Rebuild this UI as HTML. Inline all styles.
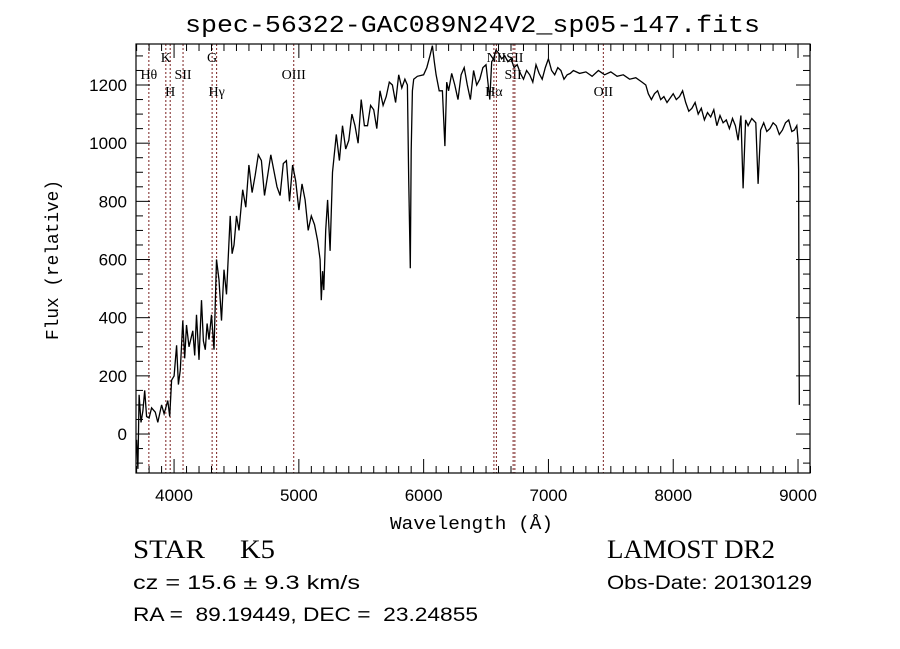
<!DOCTYPE html>
<html><head><meta charset="utf-8"><style>
html,body{margin:0;padding:0;background:#fff;width:900px;height:649px;overflow:hidden}
svg text{fill:#000}
.ax{font-family:"Liberation Sans",sans-serif;font-size:17px}
.mono{font-family:"Liberation Mono",monospace}
.ser{font-family:"Liberation Serif",serif}
.san{font-family:"Liberation Sans",sans-serif}
</style></head><body>
<svg id="chart" width="900" height="649" viewBox="0 0 900 649" xmlns="http://www.w3.org/2000/svg">
<text x="185" y="32" class="mono" font-size="24" textLength="575" lengthAdjust="spacingAndGlyphs">spec-56322-GAC089N24V2_sp05-147.fits</text>
<g id="plot"></g>
<text x="390" y="529" class="mono" font-size="18" textLength="163" lengthAdjust="spacingAndGlyphs">Wavelength (Å)</text>
<text transform="translate(58,340) rotate(-90)" class="mono" font-size="18" textLength="160" lengthAdjust="spacingAndGlyphs">Flux (relative)</text>
<text x="133" y="558" class="ser" font-size="26" textLength="72" lengthAdjust="spacingAndGlyphs">STAR</text>
<text x="240" y="558" class="ser" font-size="26" textLength="35" lengthAdjust="spacingAndGlyphs">K5</text>
<text x="607" y="558" class="ser" font-size="26" textLength="168" lengthAdjust="spacingAndGlyphs">LAMOST DR2</text>
<text x="133" y="589" class="san" font-size="19" textLength="227" lengthAdjust="spacingAndGlyphs">cz = 15.6 ± 9.3 km/s</text>
<text x="607" y="589" class="san" font-size="19" textLength="205" lengthAdjust="spacingAndGlyphs">Obs-Date: 20130129</text>
<text x="133" y="621" class="san" font-size="19" textLength="345" lengthAdjust="spacingAndGlyphs">RA =&#160;&#160;89.19449, DEC =&#160;&#160;23.24855</text>
</svg>
<script>
const wavelengths=[3700,3710,3720,3735,3750,3765,3780,3800,3820,3850,3870,3900,3920,3950,3965,3980,4000,4020,4035,4050,4070,4085,4100,4120,4150,4165,4180,4200,4220,4235,4250,4265,4280,4300,4320,4340,4360,4380,4400,4420,4450,4465,4480,4500,4520,4550,4575,4600,4625,4650,4675,4700,4725,4750,4775,4800,4825,4850,4875,4900,4925,4950,4975,5000,5025,5050,5075,5100,5125,5150,5170,5180,5190,5200,5215,5230,5250,5270,5300,5325,5350,5375,5400,5425,5450,5475,5500,5525,5550,5575,5600,5625,5650,5675,5700,5725,5750,5775,5800,5825,5850,5870,5880,5893,5900,5910,5920,5950,6000,6025,6050,6070,6085,6100,6125,6150,6170,6185,6200,6225,6250,6275,6300,6325,6350,6375,6400,6425,6450,6475,6500,6530,6545,6560,6580,6600,6625,6650,6675,6700,6725,6750,6775,6800,6825,6850,6875,6900,6925,6950,6975,7000,7025,7050,7075,7100,7125,7150,7175,7200,7250,7300,7350,7400,7450,7500,7550,7600,7650,7700,7750,7780,7800,7825,7850,7875,7900,7925,7950,7975,8000,8025,8050,8075,8100,8125,8150,8175,8200,8225,8250,8275,8300,8325,8350,8375,8400,8425,8450,8475,8498,8520,8542,8560,8580,8600,8630,8662,8680,8700,8725,8750,8775,8800,8825,8850,8875,8900,8925,8950,8970,8990,9000,9005,9010];
const fluxes=[-20,-120,135,40,80,150,60,55,90,75,40,100,70,115,60,185,200,305,170,220,390,260,375,300,355,270,410,255,460,320,290,380,325,410,290,600,530,390,565,480,750,620,650,750,700,840,780,925,830,890,960,940,820,890,960,905,850,820,930,940,800,925,870,770,860,805,700,750,720,665,600,460,560,495,700,805,630,900,1030,940,1060,980,1010,1100,1060,1000,1150,1060,1060,1130,1115,1050,1180,1130,1160,1210,1200,1140,1235,1190,1220,1200,875,570,975,1180,1220,1230,1235,1260,1300,1335,1280,1235,1180,1180,990,1210,1180,1240,1200,1150,1235,1260,1200,1150,1250,1200,1220,1260,1270,1150,1280,1290,1320,1310,1290,1300,1280,1290,1260,1270,1240,1220,1250,1235,1210,1270,1240,1220,1260,1290,1250,1235,1260,1250,1220,1235,1240,1250,1240,1245,1230,1250,1235,1245,1230,1235,1220,1225,1210,1200,1170,1150,1170,1180,1150,1160,1140,1155,1170,1150,1160,1180,1140,1110,1120,1140,1100,1120,1080,1105,1090,1115,1060,1095,1070,1080,1050,1085,1060,1010,1095,845,1080,1060,1085,1070,860,1045,1070,1040,1050,1070,1060,1030,1045,1070,1080,1040,1045,1060,1010,910,100,15];
const xTicks=[4000,5000,6000,7000,8000,9000];
const yTicks=[0,200,400,600,800,1000,1200];
const lineWaves=[3798,3934,3969,4072,4305,4341,4959,6563,6583,6717,6731,7440];
const lineNames=["Hθ","K","H","SII","G","Hγ","OIII","Hα","NII","SII","SII","OII"];
const lineRows=[1,0,2,1,0,2,1,2,0,1,0,2];

const L=136,R=810,T=44,B=473,X0=3695,X1=9096,Y0=-134,Y1=1341;
const sx=w=>L+(w-X0)/(X1-X0)*(R-L);
const sy=f=>B-(f-Y0)/(Y1-Y0)*(B-T);
const NS="http://www.w3.org/2000/svg";
const g=document.getElementById('plot');
function mk(t,a){const e=document.createElementNS(NS,t);for(const k in a)e.setAttribute(k,a[k]);g.appendChild(e);return e;}

lineWaves.forEach((w,i)=>{
  const x=sx(w);
  const ln=mk('line',{x1:x,y1:T,x2:x,y2:B,stroke:'#7a2020','stroke-width':1,'stroke-dasharray':'2,2'});
  
  
  const tx=mk('text',{x:x,y:[62,79,96][lineRows[i]],'text-anchor':'middle','font-family':'Liberation Serif, serif','font-size':14});
  tx.textContent=lineNames[i];
  
  
});

let d='';
wavelengths.forEach((w,i)=>{d+=(i?'L':'M')+sx(w).toFixed(1)+','+Math.min(B,Math.max(T,sy(fluxes[i]))).toFixed(1);});
const sp=mk('path',{d:d,fill:'none',stroke:'#000','stroke-width':1.3});



const fr=mk('rect',{x:L,y:T,width:R-L,height:B-T,fill:'none',stroke:'#000','stroke-width':1.2});



for(let w=3700;w<=9100;w+=100){
  const x=sx(w),big=w%1000===0;
  mk('line',{x1:x,y1:B,x2:x,y2:B-(big?14:7),stroke:'#000'});
  mk('line',{x1:x,y1:T,x2:x,y2:T+(big?14:7),stroke:'#000'});
}
xTicks.forEach(w=>{
  const t=mk('text',{x:sx(w),y:501,'text-anchor':'middle',class:'ax'});
  t.textContent=w;
  
  
});
for(let f=-100;f<=1300;f+=50){
  const y=sy(f),big=f%200===0;
  mk('line',{x1:L,y1:y,x2:L+(big?14:7),y2:y,stroke:'#000'});
  mk('line',{x1:R,y1:y,x2:R-(big?14:7),y2:y,stroke:'#000'});
}
yTicks.forEach(f=>{
  const t=mk('text',{x:127,y:sy(f)+6,'text-anchor':'end',class:'ax'});
  t.textContent=f;
  
  
});
</script>
</body></html>
